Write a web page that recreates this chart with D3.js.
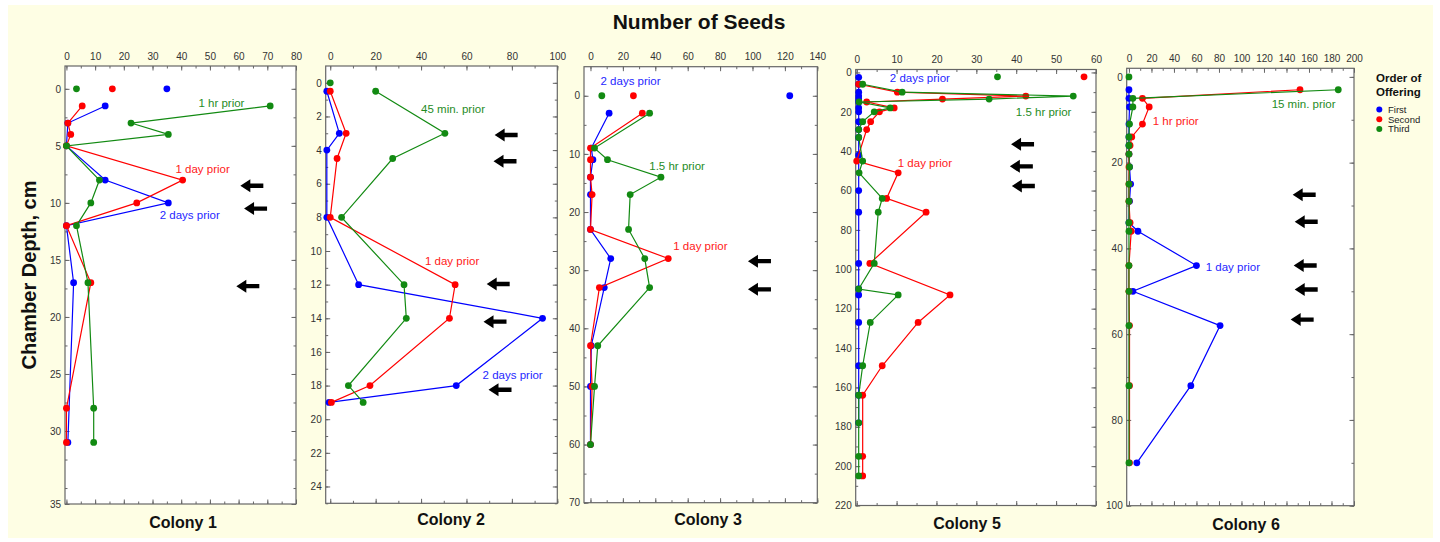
<!DOCTYPE html>
<html>
<head>
<meta charset="utf-8">
<script src="https://cdn.jsdelivr.net/npm/d3@7"></script>
<style>
body { margin: 0; background: #ffffff; }
svg { display: block; font-family: "Liberation Sans", Arial, sans-serif; }
</style>
</head>
<body>
<svg id="chart" width="1440" height="542"></svg>
<script>
// ---- data (depth in cm, number of seeds) ----
var seriesNames = ["First", "Second", "Third"];
var seriesColors = ["#0000ff", "#ff0000", "#128a12"];
var noteColors = ["#1f1fff", "#ff2020", "#1f8c1f"];

// Colony 1
var c1Depth = [1.5, 3, 4, 5, 8, 10, 12, 17, 28, 31];
var c1First = [13.5, 0.5, null, 0, 13.5, 35.5, 0, 2.5, null, 0.5];
var c1Second = [5.5, 0.5, 1.5, 0, 40.5, 24.5, 0, 8.5, 0, 0];
var c1Third = [71, 22.5, 35.5, 0, 11.5, 8.5, 3.5, 7.5, 9.5, 9.5];
var c1Surface = [35, 16, 3.5];
var c1Notes = [["1 hr prior", 2, 46, 1.2], ["1 day prior", 1, 38, 7.0], ["2 days prior", 0, 32.5, 11.1]];
var c1Arrows = [[60.6, 8.5], [61.9, 10.5], [59.2, 17.3]];

// Colony 2
var c2Depth = [0.5, 3, 4, 4.5, 8, 12, 14, 18, 19];
var c2First = [-1.5, 4, -1.5, null, -1.5, 12.5, 93.5, 55.5, -0.5];
var c2Second = [0, 7, null, 3, 0, 55, 52.5, 17.5, 0.5];
var c2Third = [20, 50.5, null, 27.5, 5, 32.5, 33.5, 8, 14.5];
var c2Surface = [null, null, 0];
var c2Notes = [["45 min. prior", 2, 40, 1.55], ["1 day prior", 1, 41.7, 10.6], ["2 days prior", 0, 67.1, 17.35]];
var c2Arrows = [[72.4, 3.1], [71.9, 4.66], [68.9, 11.96], [67.5, 14.2], [69.7, 18.25]];

// Colony 3
var c3Depth = [3, 9, 11, 14, 17, 23, 28, 33, 43, 50, 60];
var c3First = [11.5, 0.5, 1.5, 0, 0, 0, 12.5, 8.5, 0.5, 0, 0];
var c3Second = [32, 0, 0, 0, 1, 0, 48, 5.5, 0, 1, 0];
var c3Third = [36.5, 2.5, 10.5, 43.5, 24.5, 23.5, 33.5, 36.5, 4.5, 2.5, 0];
var c3Surface = [123, 26.5, 7];
var c3Notes = [["2 days prior", 0, 6.2, -2.6], ["1.5 hr prior", 2, 36.3, 12.1], ["1 day prior", 1, 51.1, 25.9]];
var c3Arrows = [[97.2, 28.45], [97.2, 33.3]];

// Colony 5
var c5FirstDepth = [2.5, 6, 10, 12, 13.5, 15, 18, 20, 25, 29, 33, 42, 60, 71, 97, 110, 113, 127, 149, 164, 178];
var c5First = [0.5, 0.5, 0.5, 0.5, 0.5, 0.5, 0.5, 0.5, 0.5, 0.5, 0.5, 0.5, 0.5, 0.5, 0.5, 0.5, 0.5, 0.5, 0.5, 0.5, 0.5];
var c5Depth = [6, 10, 12, 13.5, 15, 18, 20, 25, 29, 33, 45, 51, 64, 71, 97, 110, 113, 127, 149, 164, 178, 195, 205];
var c5Second = [0.5, 10.2, 42.4, 21.5, 2.5, 9.4, 5.7, 3.5, 2.5, null, 0, 10.4, 7.5, 17.4, 3.3, null, 23.4, 15.4, 6.4, 1.5, null, 1.5, 1.5];
var c5Third = [1.5, 11.4, 54.3, 33.2, 0.6, 8.4, 4.4, 1.5, 0.5, 0.5, 1.5, 0.6, 6.4, 5.4, 4.4, 0.5, 10.4, 3.4, 1.5, 0.5, 0.5, 0.5, 0.5];
var c5SurfaceDepth = 2.2;
var c5Surface = [null, 57, 35.3];
var c5Notes = [["2 days prior", 0, 8.3, 3.05], ["1.5 hr prior", 2, 39.9, 20], ["1 day prior", 1, 10.3, 45.8]];
var c5Arrows = [[38.7, 36.5], [38.4, 47.7], [38.9, 57.7]];

// Colony 6
var c6Depth = [3, 5, 7, 11, 14, 16, 18, 21, 25, 29, 34, 36, 44, 50, 58, 72, 90];
var c6First = [0, 0, 0.5, 0, 0, 0, 0, 0.5, 1.5, 0.5, 0, 8, 60, 3.5, 81, 55, 7];
var c6Second = [152, 12, 18, 12, 2.5, 1, 0, 0, 0, 0, 1, 2, 0, 0, 0.5, 0.5, 0.5];
var c6Third = [186, 3.5, 3.5, 0.5, 0, 0, 0, 0.5, 0, 0, 0, 0, 0, 0, 0, 0, 0];
var c6Surface = [null, null, 0];
var c6Notes = [["15 min. prior", 2, 126.8, 6.3], ["1 hr prior", 1, 21.1, 10.4], ["1 day prior", 0, 68.2, 44.4]];
var c6Arrows = [[145.5, 27.5], [147.3, 33.8], [146.4, 44], [147.3, 49.6], [143.7, 56.6]];

// tick values / labels
var c1XTicks = [0, 10, 20, 30, 40, 50, 60, 70, 80];
var c1YTicks = [0, 5, 10, 15, 20, 25, 30, 36.4];
var c1YLabels = ["0", "5", "10", "15", "20", "25", "30", "35"];
var c2XTicks = [0, 20, 40, 60, 80, 100];
var c2YTicks = [0, 2, 4, 6, 8, 10, 12, 14, 16, 18, 20, 22, 24];
var c3XTicks = [0, 20, 40, 60, 80, 100, 120, 140];
var c3YTicks = [0, 10, 20, 30, 40, 50, 60, 70];
var c5XTicks = [0, 10, 20, 30, 40, 50, 60];
var c5YTicks = [0, 20, 40, 60, 80, 100, 120, 140, 160, 180, 200, 220];
var c6XTicks = [0, 20, 40, 60, 80, 100, 120, 140, 160, 180, 200];
var c6YTicks = [0, 20, 40, 60, 80, 100];

// ---- panels (layout lives here, data comes from the arrays above) ----
var panels = [
    { title: "Colony 1", left: 65, right: 296, top: 66, bottom: 504, titleX: 183, titleY: 528,
      xDomain: [-0.5, 80], yDomain: [-2, 36.4], xTicks: c1XTicks, yTicks: c1YTicks, yLabels: c1YLabels,
      series: [[c1Depth, c1First], [c1Depth, c1Second], [c1Depth, c1Third]],
      surface: c1Surface, surfaceDepth: 0, notes: c1Notes, arrows: c1Arrows },
    { title: "Colony 2", left: 325.7, right: 557.3, top: 66, bottom: 503.3, titleX: 451, titleY: 525,
      xDomain: [-2, 100], yDomain: [-1, 25], xTicks: c2XTicks, yTicks: c2YTicks,
      series: [[c2Depth, c2First], [c2Depth, c2Second], [c2Depth, c2Third]],
      surface: c2Surface, surfaceDepth: 0, notes: c2Notes, arrows: c2Arrows },
    { title: "Colony 3", left: 584, right: 817.3, top: 66.7, bottom: 502.7, titleX: 708, titleY: 525,
      xDomain: [-4, 140], yDomain: [-5, 70], xTicks: c3XTicks, yTicks: c3YTicks,
      series: [[c3Depth, c3First], [c3Depth, c3Second], [c3Depth, c3Third]],
      surface: c3Surface, surfaceDepth: 0, notes: c3Notes, arrows: c3Arrows },
    { title: "Colony 5", left: 855.7, right: 1096, top: 69.5, bottom: 505.5, titleX: 967, titleY: 528.5,
      xDomain: [-0.25, 60], yDomain: [-1.5, 220], xTicks: c5XTicks, yTicks: c5YTicks,
      series: [[c5FirstDepth, c5First], [c5Depth, c5Second], [c5Depth, c5Third]],
      surface: c5Surface, surfaceDepth: c5SurfaceDepth, notes: c5Notes, arrows: c5Arrows },
    { title: "Colony 6", left: 1126.7, right: 1354, top: 68.3, bottom: 505.7, titleX: 1246, titleY: 530,
      xDomain: [-2, 200], yDomain: [-2, 100], xTicks: c6XTicks, yTicks: c6YTicks,
      series: [[c6Depth, c6First], [c6Depth, c6Second], [c6Depth, c6Third]],
      surface: c6Surface, surfaceDepth: 0, notes: c6Notes, arrows: c6Arrows }
];

var svg = d3.select("#chart");

// yellow background
svg.append("rect")
    .attr("x", 8).attr("y", 5)
    .attr("width", 1425).attr("height", 533)
    .attr("fill", "#fefee4");

svg.append("text")
    .attr("x", 699).attr("y", 29)
    .attr("text-anchor", "middle")
    .style("font-size", "21px").style("font-weight", "bold")
    .attr("fill", "#111")
    .text("Number of Seeds");

svg.append("text")
    .attr("transform", "translate(36,275) rotate(-90)")
    .attr("text-anchor", "middle")
    .style("font-size", "20px").style("font-weight", "bold")
    .attr("fill", "#111")
    .text("Chamber Depth, cm");

// arrow shape, tip at (0,0) pointing left
var arrowPath = "M0,0 L10,-6.5 L10,-2.2 L23,-2.2 L23,2.2 L10,2.2 L10,6.5 Z";

function halfSteps(ticks, domain) {
    // minor ticks half way between major ones
    var step = ticks[1] - ticks[0];
    return d3.range(ticks[0], domain[1] + 0.001, step / 2);
}

function drawPanel(p) {
    var x = d3.scaleLinear().domain(p.xDomain).range([p.left, p.right]);
    var y = d3.scaleLinear().domain(p.yDomain).range([p.top, p.bottom]);
    var g = svg.append("g");

    g.append("rect")
        .attr("x", p.left).attr("y", p.top)
        .attr("width", p.right - p.left).attr("height", p.bottom - p.top)
        .attr("fill", "#ffffff");

    var xMinor = halfSteps(p.xTicks, p.xDomain);
    var yMinor = halfSteps(p.yTicks, p.yDomain);

    // minor ticks on all 4 sides
    g.append("g").attr("transform", "translate(0," + p.top + ")")
        .call(d3.axisTop(x).tickValues(xMinor).tickSize(-2.5).tickFormat(""));
    g.append("g").attr("transform", "translate(0," + p.bottom + ")")
        .call(d3.axisBottom(x).tickValues(xMinor).tickSize(-2.5).tickFormat(""));
    g.append("g").attr("transform", "translate(" + p.left + ",0)")
        .call(d3.axisLeft(y).tickValues(yMinor).tickSize(-2.5).tickFormat(""));
    g.append("g").attr("transform", "translate(" + p.right + ",0)")
        .call(d3.axisRight(y).tickValues(yMinor).tickSize(-2.5).tickFormat(""));

    // major ticks + labels
    g.append("g").attr("class", "lab").attr("transform", "translate(0," + p.top + ")")
        .call(d3.axisTop(x).tickValues(p.xTicks).tickSize(-4.5).tickPadding(6.5));
    g.append("g").attr("transform", "translate(0," + p.bottom + ")")
        .call(d3.axisBottom(x).tickValues(p.xTicks).tickSize(-4.5).tickFormat(""));
    g.append("g").attr("class", "lab").attr("transform", "translate(" + p.left + ",0)")
        .call(d3.axisLeft(y).tickValues(p.yTicks).tickSize(-4.5).tickPadding(4)
            .tickFormat(function (d, i) { return p.yLabels ? p.yLabels[i] : d; }));
    g.append("g").attr("transform", "translate(" + p.right + ",0)")
        .call(d3.axisRight(y).tickValues(p.yTicks).tickSize(-4.5).tickFormat(""));

    g.selectAll(".domain").remove();
    g.selectAll(".tick line").attr("stroke", "#666");
    g.selectAll(".lab text")
        .style("font-size", "10px")
        .style("font-family", "'Liberation Sans', Arial, sans-serif")
        .attr("fill", "#333");

    g.append("rect")
        .attr("x", p.left).attr("y", p.top)
        .attr("width", p.right - p.left).attr("height", p.bottom - p.top)
        .attr("fill", "none")
        .attr("stroke", "#666")
        .attr("stroke-width", 1.2);

    var line = d3.line()
        .x(function (d) { return x(d.v); })
        .y(function (d) { return y(d.depth); });

    p.series.forEach(function (s, k) {
        var pts = [];
        for (var i = 0; i < s[0].length; i++) {
            if (s[1][i] != null) pts.push({ depth: s[0][i], v: s[1][i] });
        }
        g.append("path")
            .datum(pts)
            .attr("d", line)
            .attr("fill", "none")
            .attr("stroke", seriesColors[k])
            .attr("stroke-width", 1.2);
        g.selectAll(".dot" + k)
            .data(pts)
            .enter().append("circle")
            .attr("cx", function (d) { return x(d.v); })
            .attr("cy", function (d) { return y(d.depth); })
            .attr("r", 3.4)
            .attr("fill", seriesColors[k]);
    });

    // unconnected surface counts
    p.surface.forEach(function (v, k) {
        if (v == null) return;
        g.append("circle")
            .attr("cx", x(v)).attr("cy", y(p.surfaceDepth))
            .attr("r", 3.4)
            .attr("fill", seriesColors[k]);
    });

    g.selectAll(".note")
        .data(p.notes)
        .enter().append("text")
        .attr("x", function (d) { return x(d[2]); })
        .attr("y", function (d) { return y(d[3]); })
        .attr("dy", "0.35em")
        .style("font-size", "11.5px")
        .attr("fill", function (d) { return noteColors[d[1]]; })
        .text(function (d) { return d[0]; });

    g.selectAll(".arrow")
        .data(p.arrows)
        .enter().append("path")
        .attr("d", arrowPath)
        .attr("transform", function (d) { return "translate(" + x(d[0]) + "," + y(d[1]) + ")"; })
        .attr("fill", "#000");

    svg.append("text")
        .attr("x", p.titleX).attr("y", p.titleY)
        .attr("text-anchor", "middle")
        .style("font-size", "16px").style("font-weight", "bold")
        .attr("fill", "#111")
        .text(p.title);
}

panels.forEach(drawPanel);

// legend
var legend = svg.append("g").attr("transform", "translate(1376,0)");
legend.append("text").attr("x", 0).attr("y", 82)
    .style("font-size", "11.5px").style("font-weight", "bold").attr("fill", "#111")
    .text("Order of");
legend.append("text").attr("x", 0).attr("y", 95.5)
    .style("font-size", "11.5px").style("font-weight", "bold").attr("fill", "#111")
    .text("Offering");
legend.selectAll("circle")
    .data(seriesNames)
    .enter().append("circle")
    .attr("cx", 3.3)
    .attr("cy", function (d, i) { return 109.5 + i * 9.8; })
    .attr("r", 3)
    .attr("fill", function (d, i) { return seriesColors[i]; });
legend.selectAll(".lg")
    .data(seriesNames)
    .enter().append("text")
    .attr("x", 12)
    .attr("y", function (d, i) { return 109.5 + i * 9.8; })
    .attr("dy", "0.35em")
    .style("font-size", "9.5px")
    .attr("fill", "#222")
    .text(function (d) { return d; });
</script>
</body>
</html>
